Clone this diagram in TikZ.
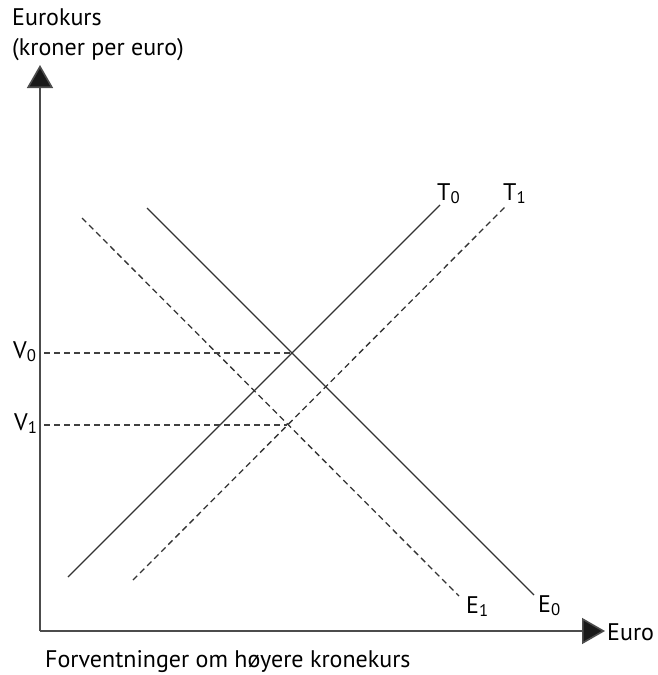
\documentclass[tikz,border=0pt]{standalone}
\usepackage{fontspec}
\setmainfont{PT Sans}
\usetikzlibrary{positioning, arrows.meta}

\newcommand{\lowidx}[2]{#1\textsubscript{#2}}

\begin{document}
\begin{tikzpicture}[
		x=1pt, y=-1pt,
		axis/.style={
			draw=black!70,
			line width=1.6pt,
			-{Triangle[length=23pt, width=26pt, fill=black!90]}
		},
		curve/.style={
			draw=black!80,
			line width=1.3pt
		},
		shifted/.style={
			curve,
			dash pattern=on 6pt off 4pt
		},
		guide/.style={
			draw=black!75,
			line width=1.1pt,
			dash pattern=on 6pt off 4pt
		},
		lbl/.style={
			font=\fontsize{24}{30}\selectfont,
			inner sep=0pt,
			anchor=base west
		}
		]
		
		\useasboundingbox (0,0) rectangle (657,675);
		
		% axes
		\coordinate (O) at (40,631);
		\coordinate (ytop) at (40,65);
		\coordinate (xend) at (605,631);
		\draw[axis] (O) -- (ytop);
		\draw[axis] (O) -- (xend);
		
		% end points of the curves
		\coordinate (T0a) at (68,577);
		\coordinate (T0b) at (440,205);
		\coordinate (T1a) at (133,580);
		\coordinate (T1b) at (505,207);
		\coordinate (E0a) at (147,208);
		\coordinate (E0b) at (534,595);
		\coordinate (E1a) at (82,218);
		\coordinate (E1b) at (459,596);
		
		% equilibria
		\coordinate (Q0) at (292,353);
		\coordinate (Q1) at (287,425);
		\coordinate (V0a) at (44,353);
		\coordinate (V1a) at (44,425);
		
		\draw[curve] (T0a) -- (T0b);
		\draw[shifted] (T1a) -- (T1b);
		\draw[curve] (E0a) -- (E0b);
		\draw[shifted] (E1a) -- (E1b);
		
		\draw[guide] (V0a) -- (Q0);
		\draw[guide] (V1a) -- (Q1);
		
		% labels
		\node[lbl, align=left, anchor=north west] (ylabel) at (12,8) {Eurokurs\\(kroner per euro)};
		\node[lbl] (xlabel) at (607,640) {Euro};
		\node[lbl] (T0lbl) at (437,200) {\lowidx{T}{0}};
		\node[lbl] (T1lbl) at (503,200) {\lowidx{T}{1}};
		\node[lbl] (E0lbl) at (538,612) {\lowidx{E}{0}};
		\node[lbl] (E1lbl) at (466,613) {\lowidx{E}{1}};
		\node[lbl] (V0lbl) at (13,358) {\lowidx{V}{0}};
		\node[lbl] (V1lbl) at (14,430) {\lowidx{V}{1}};
		\node[lbl] (caption) at (45,667) {Forventninger om høyere kronekurs};
		
	\end{tikzpicture}
\end{document}
